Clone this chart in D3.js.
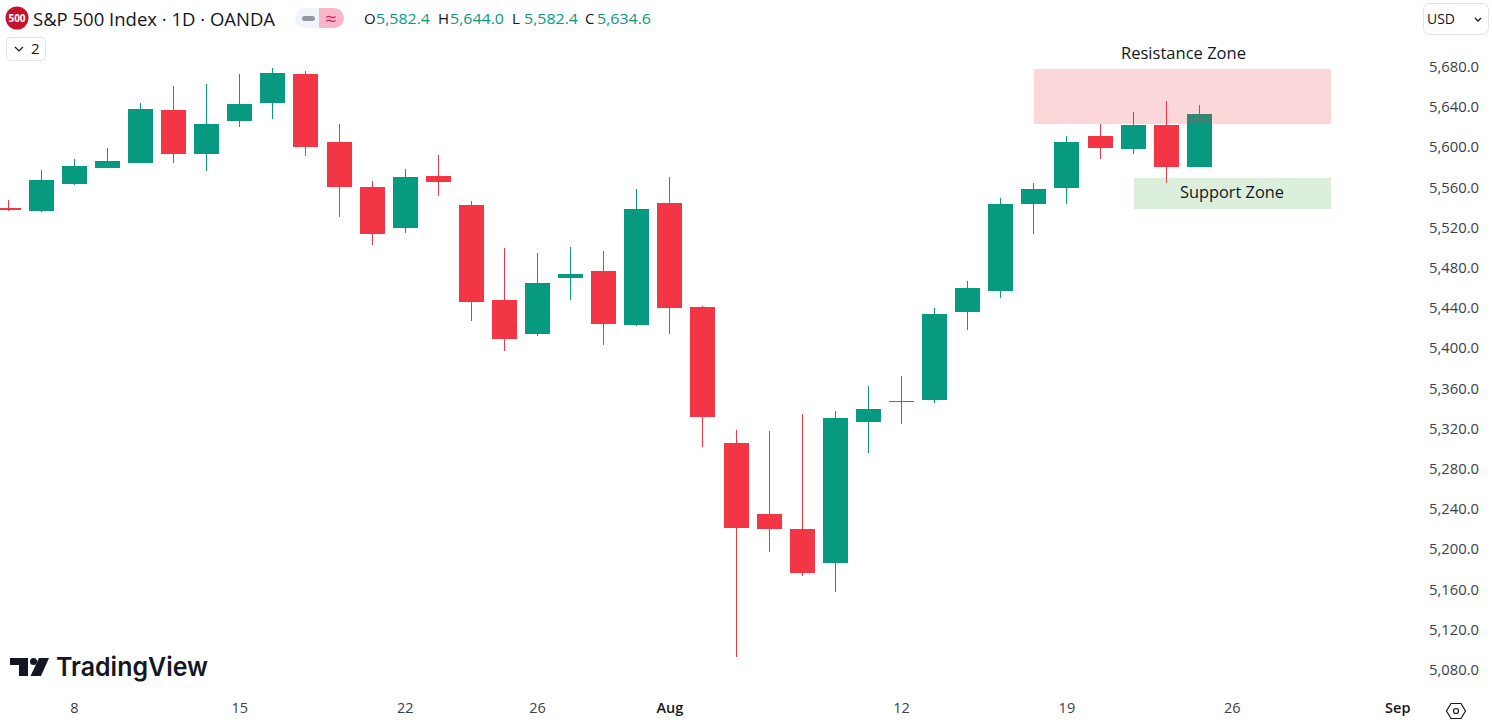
<!DOCTYPE html>
<html><head><meta charset="utf-8">
<style>
html,body{margin:0;padding:0;background:#fff;overflow:hidden}
svg{display:block}
text{font-family:"Open Sans","Noto Sans",sans-serif;fill:#131722}
</style>
<script src="https://cdn.jsdelivr.net/npm/d3@7"></script>
</head><body><svg id="c" width="1492" height="725"></svg>
<script>
const opens =[5541,5538.1,5565,5580.9,5585.9,5638.6,5594.8,5627.7,5645.6,5674.4,5606.8,5562,5521.2,5572.9,5544,5449.6,5415.7,5471.5,5478.4,5424.7,5546,5442.6,5307.3,5236.6,5221.7,5187.9,5328.2,5349,5350,5437.6,5458.5,5545,5561,5612.7,5599.8,5623.7,5582.4];
const highs =[5549,5578.9,5589.9,5600.8,5645.6,5662.5,5664.5,5674.4,5680.4,5677.4,5624.7,5567.9,5579.9,5593.8,5548,5501.3,5496.3,5502.3,5498.3,5560,5571.9,5443.6,5320.2,5319.2,5336.1,5339.1,5364,5373.9,5441.6,5468.5,5551,5565.9,5612.7,5624.7,5636.6,5647.6,5644.0];
const lows  =[5538.1,5537.1,5564,5580.9,5585.9,5585.9,5577.9,5621.7,5629.6,5592.9,5532.1,5504.3,5516.2,5553,5428.7,5398.8,5413.7,5449.6,5404.8,5423.7,5415.7,5303.3,5094.3,5198.8,5174.9,5159,5297.3,5326.2,5347,5419.7,5451.5,5515.2,5545,5589.9,5594.8,5565.9,5582.4];
const closes=[5539,5568.9,5582.9,5587.9,5639.6,5594.8,5624.7,5644.6,5675.4,5601.8,5562,5515.2,5571.9,5566.9,5447.6,5410.7,5466.5,5475.4,5425.7,5540,5441.6,5333.1,5222.7,5221.7,5177.9,5332.1,5341.1,5348,5435.6,5461.5,5545,5560,5606.8,5600.8,5623.7,5581.9,5634.6];
const yTicks=[5680,5640,5600,5560,5520,5480,5440,5400,5360,5320,5280,5240,5200,5160,5120,5080];
const xTickIndex=[2,7,12,16,20,27,32,37,42];
const xTickLabels=["8","15","22","26","Aug","12","19","26","Sep"];
const resistance={from:31,to:39.96,top:5679.4,bottom:5624.7,label:"Resistance Zone"};
const support={from:34.02,to:39.96,top:5570.9,bottom:5540,label:"Support Zone"};
const ohlcLast=[["O","5,582.4"],["H","5,644.0"],["L","5,582.4"],["C","5,634.6"]];

const UP="#089981",DOWN="#F23645";
const svg=d3.select("#c");
const x=d3.scaleLinear().domain([0,36]).range([8.664,1199.76]);
const y=d3.scaleLinear().domain([5680,5080]).range([68.5,671.5]);
const candles=opens.map((o,i)=>({i,o,h:highs[i],l:lows[i],c:closes[i]}));
const col=d=>d.c>=d.o?UP:DOWN;

const g=svg.append("g").attr("shape-rendering","crispEdges");
g.selectAll("rect.w").data(candles).join("rect").attr("class","w")
 .attr("x",d=>Math.floor(x(d.i)-12.5)+12).attr("width",1)
 .attr("y",d=>Math.round(y(d.h))).attr("height",d=>Math.round(y(d.l))-Math.round(y(d.h)))
 .attr("fill",col);
g.selectAll("rect.b").data(candles).join("rect").attr("class","b")
 .attr("x",d=>Math.floor(x(d.i)-12.5)).attr("width",25)
 .attr("y",d=>Math.round(y(Math.max(d.o,d.c))))
 .attr("height",d=>Math.max(1,Math.round(y(Math.min(d.o,d.c)))-Math.round(y(Math.max(d.o,d.c)))))
 .attr("fill",col);

// zones
[[resistance,"#F23645",0.2],[support,"#4CAF50",0.2]].forEach(([z,c,a])=>{
  g.append("rect").attr("x",Math.round(x(z.from))).attr("width",Math.round(x(z.to))-Math.round(x(z.from)))
   .attr("y",Math.round(y(z.top))).attr("height",Math.round(y(z.bottom))-Math.round(y(z.top)))
   .attr("fill",c).attr("fill-opacity",a);
});
const note=(t,cx,cy,w)=>svg.append("text").text(t).attr("x",cx).attr("y",cy).attr("text-anchor","middle")
  .attr("dominant-baseline","central").attr("font-size",16.5).attr("textLength",w).attr("lengthAdjust","spacingAndGlyphs");
note(resistance.label,1183.5,52,125);
note(support.label,1232,191,104);

// y axis
const ya=svg.append("g").attr("transform","translate(1423,0)")
 .call(d3.axisRight(y).tickValues(yTicks).tickSize(0).tickPadding(6).tickFormat(d3.format(",.1f")));
ya.select(".domain").remove();
ya.selectAll("text").style("font-family",'"Open Sans",sans-serif').attr("font-size",15).style("fill","#3b3f4a")
  .attr("dy","0.2em").attr("textLength",50).attr("lengthAdjust","spacingAndGlyphs");

// x axis
const xa=svg.append("g").attr("transform","translate(-1,703)")
 .call(d3.axisBottom(x).tickValues(xTickIndex).tickSize(0).tickPadding(0).tickFormat((d,i)=>xTickLabels[i]));
xa.select(".domain").remove();
xa.selectAll("text").style("font-family",'"Open Sans",sans-serif').attr("font-size",14.5).attr("dy","0.71em")
  .style("fill",(d,i)=>/[A-Z]/.test(xTickLabels[i])?"#131722":"#3b3f4a")
  .style("font-weight",(d,i)=>/[A-Z]/.test(xTickLabels[i])?600:400);

// header
svg.append("circle").attr("cx",17).attr("cy",18).attr("r",11.5).attr("fill","#C5132D");
svg.append("text").text("500").attr("x",17).attr("y",18).attr("text-anchor","middle").attr("dominant-baseline","central")
  .attr("font-size",10).attr("font-weight",700).style("fill","#fff");
svg.append("text").text("S&P 500 Index · 1D · OANDA").attr("x",33).attr("y",25.5).attr("font-size",19)
  .attr("textLength",242).attr("lengthAdjust","spacingAndGlyphs");
// pill
svg.append("path").attr("d","M319 8H305a10 10 0 0 0 0 20H319Z").attr("fill","#F0F3FA");
svg.append("path").attr("d","M319 8H334a10 10 0 0 1 0 20H319Z").attr("fill","#F7B7CB");
svg.append("rect").attr("x",302).attr("y",16).attr("width",13).attr("height",5).attr("rx",2.5).attr("fill","#9598A1");
svg.append("text").text("≈").attr("x",331).attr("y",18).attr("text-anchor","middle").attr("dominant-baseline","central")
  .attr("font-size",20).style("fill","#E91E63");
// ohlc
const ohlcX=[364,438,512,585];
ohlcLast.forEach(([k,v],i)=>{
  svg.append("text").text(k).attr("x",ohlcX[i]).attr("y",24).attr("font-size",15);
  svg.append("text").text(v).attr("x",ohlcX[i]+12).attr("y",24).attr("font-size",15).style("fill",UP)
    .attr("textLength",54).attr("lengthAdjust","spacingAndGlyphs");
});
// collapse button
svg.append("rect").attr("x",6.5).attr("y",37.5).attr("width",39).attr("height",23).attr("rx",4).attr("fill","#fff").attr("stroke","#E0E3EB");
svg.append("path").attr("d","M15 47l4 4 4-4").attr("fill","none").attr("stroke","#131722").attr("stroke-width",1.2);
svg.append("text").text("2").attr("x",31).attr("y",54).attr("font-size",15);
// currency button
svg.append("rect").attr("x",1423.5).attr("y",3.5).attr("width",65).attr("height",31).attr("rx",6).attr("fill","#fff").attr("stroke","#E0E3EB");
svg.append("text").text("USD").attr("x",1427).attr("y",24).attr("font-size",15).attr("textLength",28).attr("lengthAdjust","spacingAndGlyphs");
svg.append("path").attr("d","M1475 18l3 3 3-3").attr("fill","none").attr("stroke","#131722").attr("stroke-width",1.3);
// settings hexagon
svg.append("path").attr("d","M1451 703.5h10l4.5 7.5-4.5 7.5h-10l-4.5-7.5z").attr("fill","none").attr("stroke","#131722").attr("stroke-width",1.2);
svg.append("circle").attr("cx",1456).attr("cy",711).attr("r",2.5).attr("fill","none").attr("stroke","#131722").attr("stroke-width",1.2);
// logo
const L="#131722";
svg.append("path").attr("d","M10 658H28V676H19V665H10Z").attr("fill",L);
svg.append("circle").attr("cx",33.5).attr("cy",661.5).attr("r",3.5).attr("fill",L);
svg.append("path").attr("d","M39 658H49L41 676H30.5Z").attr("fill",L);
svg.append("text").text("TradingView").attr("x",56).attr("y",676).attr("font-size",26)
  .attr("font-weight",600).attr("textLength",152).attr("lengthAdjust","spacingAndGlyphs")
  .style("font-family",'Inter,"Open Sans",sans-serif');
</script></body></html>
